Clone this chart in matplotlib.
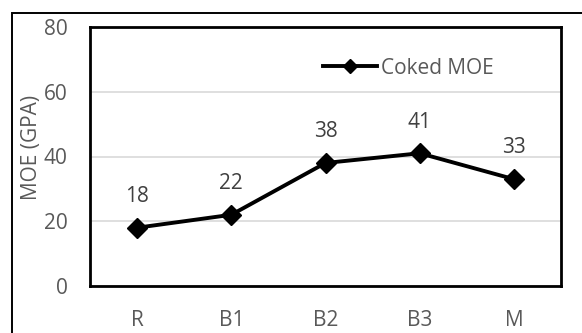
import matplotlib
matplotlib.use("Agg")
import matplotlib.pyplot as plt
from matplotlib.patches import Rectangle

categories = ["R", "B1", "B2", "B3", "M"]
coked_moe = [18, 22, 38, 41, 33]
y_ticks = [0, 20, 40, 60, 80]

plt.rcParams['font.family'] = ['Open Sans', 'DejaVu Sans']
text_grey = "#595959"
fs = 15

fig = plt.figure(figsize=(5.82, 3.33), dpi=100)
ax = fig.add_axes([90 / 582, 1 - 286 / 333, (561 - 90) / 582, (286 - 27) / 333])

x = list(range(len(categories)))
ax.plot(x, coked_moe, color="black", lw=2.8, marker="D", ms=10, label="Coked MOE", zorder=3)
for xi, v in zip(x, coked_moe):
    ax.annotate(f"{v}", (xi, v), xytext=(0, 18.5), textcoords="offset points",
                ha="center", va="baseline", fontsize=fs, color="#404040")

ax.set_xlim(-0.5, len(categories) - 0.5)
ax.set_ylim(0, 80)
ax.set_yticks(y_ticks)
ax.set_xticks(x)
ax.set_xticklabels(categories)
ax.tick_params(axis="both", length=0, labelsize=fs, labelcolor=text_grey)
ax.tick_params(axis="y", pad=16)
ax.tick_params(axis="x", pad=17)
ax.grid(axis="y", color="#d9d9d9", lw=1.2)
ax.set_axisbelow(True)
for s in ax.spines.values():
    s.set_linewidth(2)
    s.set_color("black")

ax.set_ylabel("MOE (GPA)", fontsize=fs, color=text_grey)
ax.yaxis.set_label_coords(-0.102, 0.535)

leg = ax.legend(loc="center left", bbox_to_anchor=((323 - 90) / 471, (286 - 68) / 259),
                frameon=False, fontsize=fs, handlelength=2.6, handletextpad=0.2,
                borderpad=0, borderaxespad=0, markerscale=0.75, labelcolor=text_grey)

# outer chart frame
fig.patches.append(Rectangle((12 / 582, -0.1), 1.2, 1 - 13 / 333 + 0.1,
                             transform=fig.transFigure, fill=False, lw=1.4,
                             edgecolor="black", zorder=0))

fig.savefig("out.png", dpi=100)
